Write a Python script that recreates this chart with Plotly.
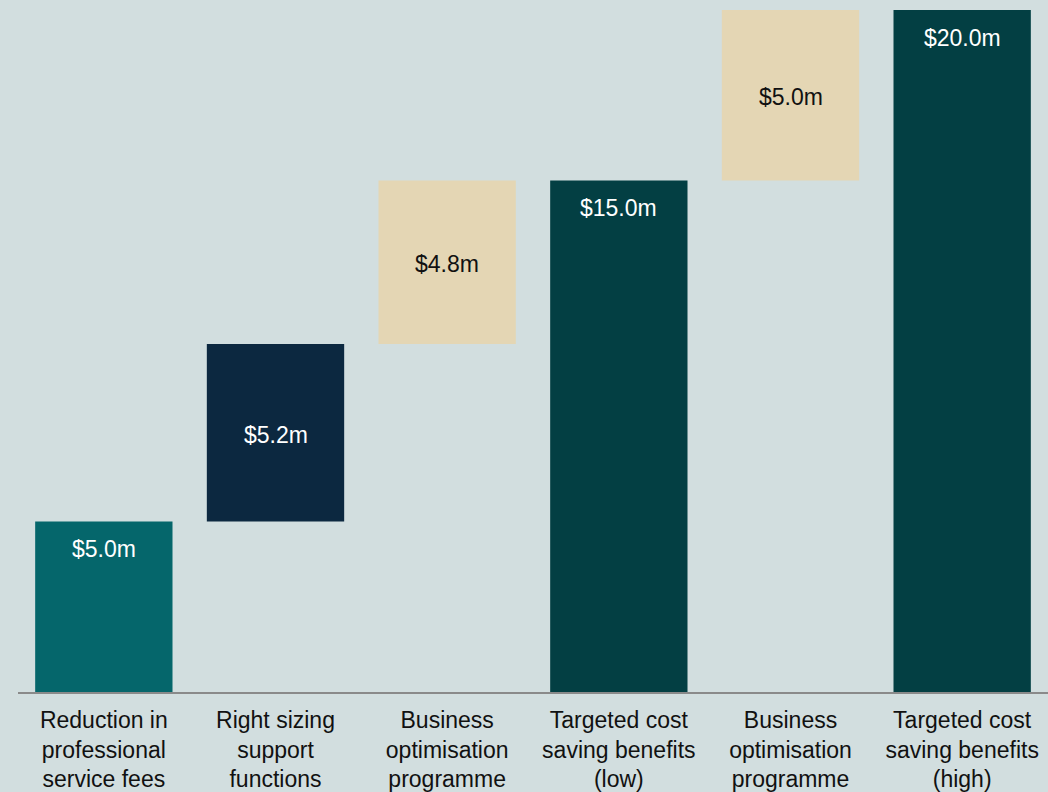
import plotly.graph_objects as go

categories = [
    "Reduction in<br>professional<br>service fees",
    "Right sizing<br>support<br>functions",
    "Business<br>optimisation<br>programme",
    "Targeted cost<br>saving benefits<br>(low)",
    "Business<br>optimisation<br>programme",
    "Targeted cost<br>saving benefits<br>(high)",
]
values = [5.0, 5.2, 4.8, 15.0, 5.0, 20.0]
measures = ["relative", "relative", "relative", "total", "relative", "total"]
labels = ["$5.0m", "$5.2m", "$4.8m", "$15.0m", "$5.0m", "$20.0m"]
bar_colors = ["#05666b", "#0c2840", "#e4d6b4", "#033f43", "#e4d6b4", "#033f43"]
label_colors = ["#ffffff", "#ffffff", "#111111", "#ffffff", "#111111", "#ffffff"]
label_pos = ["top", "middle", "middle", "top", "middle", "top"]

# compute bases from waterfall logic
bases = []
running = 0.0
for v, m in zip(values, measures):
    if m == "total":
        bases.append(0.0)
        running = v
    else:
        bases.append(running)
        running += v

xs = list(range(len(categories)))
FONT = "Liberation Sans, Arial, sans-serif"

fig = go.Figure()
fig.add_trace(go.Bar(
    x=xs,
    y=values,
    base=bases,
    marker=dict(color=bar_colors, line=dict(width=0)),
    width=0.8,
    hoverinfo="skip",
    showlegend=False,
))

annotations = []
for i, (v, b, lab, col, pos) in enumerate(zip(values, bases, labels, label_colors, label_pos)):
    if pos == "top":
        annotations.append(dict(x=i, y=b + v, xref="x", yref="y", text=lab,
                                showarrow=False, yanchor="top", yshift=-13,
                                font=dict(family=FONT, size=23, color=col)))
    else:
        annotations.append(dict(x=i, y=b + v / 2, xref="x", yref="y", text=lab,
                                showarrow=False, yanchor="middle", yshift=-2,
                                font=dict(family=FONT, size=23, color=col)))

fig.update_layout(
    width=1048, height=792,
    margin=dict(l=18, r=0, t=0, b=98),
    paper_bgcolor="#d2dedf",
    plot_bgcolor="#d2dedf",
    font=dict(family=FONT, size=23, color="#111111"),
    annotations=annotations,
    xaxis=dict(
        tickmode="array", tickvals=xs, ticktext=categories,
        range=[-0.5, len(categories) - 0.5],
        showline=True, linecolor="#8a8a8a", linewidth=2,
        showgrid=False, zeroline=False, ticks="",
        tickfont=dict(size=23, color="#111111"),
        ticklabelstandoff=6,
        fixedrange=True,
    ),
    yaxis=dict(
        range=[0, 20.29], visible=False, showgrid=False, zeroline=False,
        fixedrange=True,
    ),
    bargap=0.2,
)

fig.write_html(
    "out.html",
    config={"displayModeBar": False},
    post_script="document.body.style.margin='0';document.body.style.overflow='hidden';",
)
